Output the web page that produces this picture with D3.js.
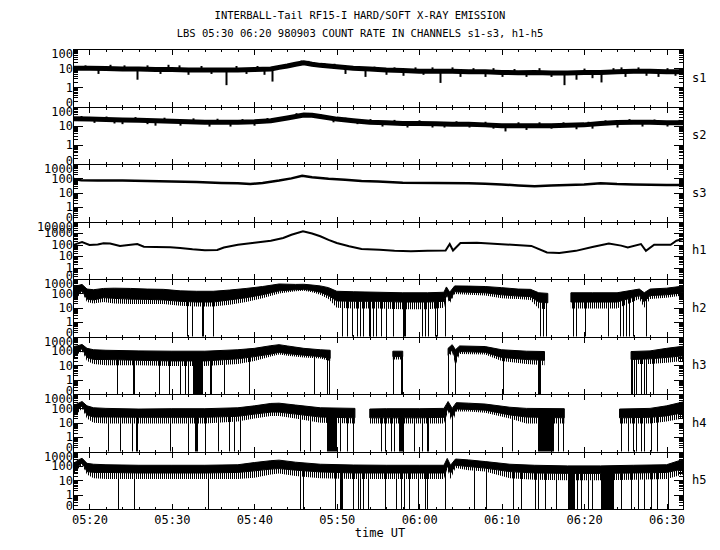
<!DOCTYPE html>
<html>
<head>
<meta charset="utf-8">
<script src="https://cdn.jsdelivr.net/npm/d3@7"></script>
<style>
  body { margin: 0; background: #fff; }
  text { font-family: "DejaVu Sans Mono", monospace; fill: #000; }
</style>
</head>
<body>
<svg id="chart" width="720" height="550"></svg>
<script>
// ---- data (time in minutes after 05:18 UT) ----
const titleLines = [
  'INTERBALL-Tail RF15-I HARD/SOFT X-RAY EMISSION',
  'LBS 05:30 06:20 980903  COUNT RATE IN CHANNELS s1-s3, h1-h5'
]
const channels = ['s1', 's2', 's3', 'h1', 'h2', 'h3', 'h4', 'h5']
const scaleTops = [100, 100, 1000, 10000, 1000, 1000, 1000, 1000]

// thin traces: [minute, count rate]
const s1 = [[0.1,10],[2,10],[4,9.5],[6,9],[8,9],[10,8.5],[12,8.5],[14,8],[16,8],[18,8],[20,8],[22,8.5],[24,9],[25,11],[26,13],[27,16],[28,19],[29,16],[30,14],[31,13],[32,12],[34,10],[36,9],[38,8],[40,7.5],[42,7],[44,7],[46,7],[48,6.5],[50,6.5],[52,6],[54,5.8],[56,6],[58,5.6],[60,5.6],[62,6],[64,6],[66,6.5],[68,7],[70,7],[72,6.5],[74,6.5]]
const s2 = [[0.1,23],[2,22],[4,21],[6,20],[8,19],[10,18],[12,17],[14,16],[16,15],[18,15],[20,15],[22,16],[24,18],[26,25],[28,36],[29,35],[30,30],[32,22],[34,18],[36,15],[38,14],[40,13],[42,13],[44,12.5],[46,12],[48,12],[50,11],[52,10],[54,10],[56,10],[58,10],[60,10.5],[62,11],[64,13],[66,14.5],[68,15],[70,15],[72,14],[74,14]]
const s3 = [[0.1,90],[1,75],[3,70],[6,70],[9,65],[12,60],[15,55],[18,48],[20,45],[21.5,40],[23,48],[25,70],[26.5,100],[27.8,150],[29,120],[31,95],[33,80],[35,65],[37,60],[40,50],[44,48],[48,45],[50,42],[52,38],[54,32],[56,28],[58,32],[60,35],[62,38],[64,45],[66,40],[68,38],[70,36],[72,35],[74,35]]
const h1 = [[0.1,90],[0.5,120],[1.1,165],[2,90],[3,100],[3.7,130],[4.5,120],[5.7,75],[7,95],[7.8,110],[8.6,65],[10,60],[11.8,57],[13,50],[14.5,38],[16,32],[17.5,33],[18.3,55],[20,95],[22,140],[24,215],[25.5,370],[26.5,700],[27.9,1400],[29,900],[30,520],[31,250],[32,135],[33.5,70],[35,40],[37.2,35],[39,28],[41,26],[43,28],[45.2,30],[45.7,110],[46.1,30],[47,135],[49,140],[51.5,110],[55.6,75],[57.5,20],[59,18],[61,28],[63,60],[65,120],[66.5,80],[67.3,55],[68.9,110],[69.5,28],[70.5,96],[72.5,96],[73.2,215],[74,300]]

// short spikes off the soft-channel traces: [minute, count rate]
const s1Spikes = [[1.5,14],[3,5],[4.5,15],[6.2,14],[7.8,2.5],[9,14],[10.5,5],[11.5,15],[12.8,14],[14,4.5],[15.5,13],[16.7,5],[18.6,1.3],[19.8,13],[21,5],[22.3,13],[23.2,4.5],[24.2,2],[26.5,18],[27.6,25],[28.5,24],[30.5,18],[31.7,17],[33,5],[34.2,13],[35.4,3.5],[36.5,12],[38,4.5],[39,11],[40,4],[41.5,11],[42.5,4.5],[43.5,11],[44.5,1.7],[46,11],[47,3.5],[48.5,10],[50,3.5],[51,10],[52,3.5],[53.5,9],[55,3.5],[56.5,10],[58,3.5],[59.6,1.3],[61,2.5],[62,9.5],[63,3],[64,1.8],[65.5,10],[66.5,11],[67,3.5],[68.5,11],[69.5,4],[71,3.5],[72,10],[73,4]]
const s2Spikes = [[1,32],[2.5,14],[4,30],[5,13],[6,12],[7.5,28],[9,12],[10,10],[11,26],[13,10],[14.5,24],[16.5,9],[17.5,23],[19,9],[20.5,22],[22,10],[23.5,25],[27,45],[28.5,46],[30,40],[31.5,15],[33,26],[34.5,12],[36,22],[37.5,9],[39,20],[40.5,8],[42,19],[43.5,8],[45,8],[46.5,17],[48,8],[50,16],[51,7],[52.4,5],[54,15],[55,6],[56.5,15],[58,7],[59.5,15],[61,6.5],[62.5,16],[63,7],[64.5,19],[66,8],[67.5,22],[69,9],[70.5,21],[72,9],[73.5,20]]

// noisy hard channels: [minute, upper edge, bottom of solid band, lowest dips]; null = no data
const h2 = [[0.1,300,60,40],[0.6,350,90,60],[1.1,420,150,120],[1.7,200,40,25],[2.5,180,35,20],[3.7,220,50,25],[5,230,45,20],[7,220,40,18],[9,200,38,18],[11,190,35,18],[13,150,28,14],[15,140,25,12],[17,140,25,12],[19,170,35,16],[21,220,50,25],[23,300,80,45],[25,450,150,100],[27,420,180,140],[28,430,190,150],[29,380,160,120],[30,330,120,80],[31,250,70,40],[32,140,30,10],[34,130,28,9],[37,120,28,9],[40,110,25,8],[43,110,25,8],[45,120,28,10],[45.3,280,100,60],[45.7,120,30,20],[46.3,330,130,90],[48,320,120,80],[50,300,110,70],[52,250,80,45],[54,200,65,40],[55.5,190,60,35],[56.5,110,25,9],[57.6,100,22,8],[57.7,null,null,null],[60.3,null,null,null],[60.4,110,25,9],[63,110,25,9],[66,110,25,9],[68.7,200,70,40],[69.3,110,25,10],[70,200,70,40],[72,230,80,50],[74,320,110,70]]
const h3 = [[0.1,200,50,30],[0.6,230,90,60],[1.1,280,140,100],[1.7,150,35,20],[2.5,120,25,12],[4,110,25,10],[8,100,22,10],[12,95,20,9],[16,95,20,9],[20,120,28,12],[22,150,40,20],[24,230,60,40],[25,270,80,55],[26,220,65,45],[28,150,50,35],[30,120,40,30],[31.2,110,30,20],[31.3,null,null,null],[38.7,null,null,null],[38.8,95,40,25],[40,95,40,25],[40.1,null,null,null],[45.4,null,null,null],[45.5,150,50,30],[46,270,120,80],[46.4,120,25,10],[46.9,220,90,60],[50,200,80,55],[52,120,35,20],[55,95,25,12],[57.2,90,22,10],[57.3,null,null,null],[67.6,null,null,null],[67.7,90,25,12],[70,100,28,12],[72,150,35,15],[74,210,45,20]]
const h4 = [[0.1,150,50,30],[0.6,220,80,50],[1.1,300,150,100],[1.7,150,35,20],[2.5,110,25,10],[4,100,25,9],[8,90,24,9],[12,95,24,9],[16,95,24,9],[20,110,28,12],[22,150,40,20],[24,220,55,30],[25,230,55,30],[27,170,40,20],[30,110,25,10],[34.2,100,22,9],[34.3,null,null,null],[35.9,null,null,null],[36,90,22,9],[38,95,22,9],[42,95,22,9],[45,100,24,9],[45.5,300,100,60],[46,100,24,9],[46.5,250,90,60],[48,230,85,60],[50,200,75,50],[53,120,35,20],[55,100,25,9],[59.6,95,22,9],[59.7,null,null,null],[66.2,null,null,null],[66.3,90,22,9],[70,100,24,9],[72,150,30,12],[74,280,50,20]]
const h5 = [[0.1,150,50,30],[0.6,250,90,60],[1.1,340,160,120],[1.7,150,40,25],[2.5,130,35,14],[4,120,35,12],[8,110,32,12],[12,110,32,12],[16,110,32,12],[20,120,35,12],[22,170,45,15],[24,230,60,25],[25,250,65,30],[27,180,50,20],[30,130,38,14],[34,115,32,12],[38,110,32,12],[42,110,32,12],[45,110,32,12],[45.4,330,100,60],[45.8,110,30,12],[46.4,300,110,70],[48,260,90,50],[50,200,70,40],[53,130,40,14],[56,110,32,11],[60,100,30,10],[64,100,30,10],[68,110,32,11],[72,120,35,12],[74,280,60,25]]

// drop-outs to zero: [from minute, to minute]
const h2Drops = [[13.8,13.8],[14.4,14.4],[15.6,15.9],[17,17],[32.6,32.6],[33.2,33.2],[33.8,33.8],[34.4,34.4],[34.8,34.8],[35.2,35.2],[35.9,36.1],[36.4,36.4],[36.8,36.8],[37.4,37.4],[38,38],[38.8,38.8],[40,40.4],[42.3,42.3],[42.7,42.7],[43.1,43.1],[43.9,43.9],[44.1,44.1],[45.1,45.1],[56.6,56.6],[57,57],[57.4,57.4],[60.6,60.6],[61,61],[62.1,62.1],[64.9,64.9],[66.3,66.3],[66.7,66.7],[67.1,67.1],[67.5,67.5],[67.9,67.9],[69.5,69.5]]
const h3Drops = [[5.3,5.3],[7.3,7.6],[10.4,10.4],[11.6,11.6],[13,13],[13.6,13.6],[14,14],[14.6,15.8],[16.6,16.8],[18.3,18.3],[21.3,21.3],[29.2,29.2],[30.8,30.8],[31.1,31.1],[38.8,38.9],[39.8,40],[45.5,45.5],[46.4,46.4],[52.2,52.2],[56.4,56.8],[67.7,67.9],[68.1,68.1],[68.3,68.3],[68.9,68.9],[69.3,69.3],[69.5,69.5],[70.4,70.4]]
const h4Drops = [[4.3,4.3],[5.7,5.7],[7.1,7.1],[7.6,7.8],[11.8,11.8],[14,14],[14.8,15.2],[16,16],[17.6,17.6],[18.9,18.9],[19.5,19.5],[20.3,20.3],[27.5,27.5],[28.8,28.8],[30.8,32],[32.4,32.4],[33.2,33.2],[34,34],[37.4,37.4],[37.8,37.8],[38.6,38.6],[39,39],[39.6,40.2],[41.4,41.4],[42.3,42.3],[42.9,43.1],[45.1,45.1],[46,46],[53.2,53.2],[56.4,58.4],[58.8,58.8],[59.4,59.4],[66.5,66.5],[67.3,67.3],[67.9,67.9],[68.3,68.3],[68.9,68.9],[69.3,69.3],[70.1,70.1],[70.9,70.9]]
const h5Drops = [[5.5,5.5],[7.4,7.4],[16.4,16.4],[27.5,27.5],[27.9,27.9],[31.8,31.8],[32.4,32.8],[34,34],[34.6,34.6],[34.8,34.8],[35.2,35.2],[35.8,35.8],[37.8,37.8],[39.2,39.2],[39.8,39.8],[40.2,40.2],[40.8,40.8],[41.9,41.9],[42.7,42.7],[42.9,42.9],[45.1,45.1],[48.7,48.7],[50.1,50.1],[53.4,53.4],[54.4,54.4],[56,56],[56.4,56.4],[57.2,57.2],[58.6,58.6],[60,60.8],[61.2,61.2],[61.6,61.6],[62.5,62.5],[62.9,62.9],[64.1,65.7],[66.5,66.5],[67.7,67.7],[68.5,68.5],[69.3,69.3],[70.1,70.1],[70.9,70.9],[72.2,72.2]]

const lines = { s1: s1, s2: s2, s3: s3, h1: h1 }
const lineWidth = { s1: 5, s2: 5, s3: 2.5, h1: 2 }
const spikes = { s1: s1Spikes, s2: s2Spikes }
const bands = { h2: h2, h3: h3, h4: h4, h5: h5 }
const drops = { h2: h2Drops, h3: h3Drops, h4: h4Drops, h5: h5Drops }

// ---- layout ----
let plotLeft = 73, plotRight = 683, plotTop = 49, panelH = 57.5
let svg = d3.select('#chart')

// comb pattern for the ragged lower edge of the noisy bands
let pat = svg.append('defs').append('pattern').attr('id', 'comb')
  .attr('patternUnits', 'userSpaceOnUse').attr('width', 2).attr('height', 4)
pat.append('rect').attr('width', 1).attr('height', 4).attr('fill', '#000')

let start = Date.UTC(1998, 8, 3, 5, 18)
let at = m => new Date(start + m * 60000)
let x = d3.scaleUtc().domain([at(0), at(74)]).range([plotLeft, plotRight])

svg.append('text').attr('x', 360).attr('y', 19).attr('text-anchor', 'middle')
  .style('font-size', '10.5px').text(titleLines[0])
svg.append('text').attr('x', 360).attr('y', 37).attr('text-anchor', 'middle')
  .style('font-size', '10.5px').text(titleLines[1])

// tick marks as crisp 1px rectangles
function hTicks(g, values, y, x0, len) {
  g.selectAll(null).data(values).enter().append('rect')
    .attr('x', len > 0 ? x0 : x0 + len)
    .attr('y', d => Math.round(y(d)))
    .attr('width', Math.abs(len)).attr('height', 1).attr('fill', '#000')
}
function vTicks(g, values, y0, len) {
  g.selectAll(null).data(values).enter().append('rect')
    .attr('x', d => Math.round(x(d)))
    .attr('y', len > 0 ? y0 : y0 + len)
    .attr('width', 1).attr('height', Math.abs(len)).attr('fill', '#000')
}

let minorTimes = x.ticks(d3.utcMinute.every(2))
let majorTimes = x.ticks(d3.utcMinute.every(10))

channels.forEach(function (name, i) {
  let y0 = plotTop + i * panelH
  let y1 = y0 + panelH
  let y = d3.scaleLog().domain([0.1, scaleTops[i]]).range([y1, y0]).clamp(true)

  let g = svg.append('g')

  // data
  if (bands[name]) {
    let rows = bands[name]
    let has = d => d[1] != null
    let xt = d => x(at(d[0]))
    g.append('path').datum(rows)
      .attr('d', d3.area().defined(has).x(xt).y0(d => y(d[3])).y1(d => y(d[2])))
      .attr('fill', 'url(#comb)')
    g.append('path').datum(rows)
      .attr('d', d3.area().defined(has).x(xt).y0(d => y(d[2])).y1(d => y(d[1])))
      .attr('fill', '#000').attr('stroke', '#000').attr('stroke-width', 1)

    let valid = rows.filter(has)
    let solidAt = d3.scaleLinear().domain(valid.map(d => d[0])).range(valid.map(d => d[2]))
    g.selectAll('rect.drop').data(drops[name]).enter().append('rect')
      .attr('x', d => Math.round(x(at(d[0]))))
      .attr('width', d => Math.max(1, Math.round(x(at(d[1])) - x(at(d[0])))))
      .attr('y', d => y(solidAt(d[0])) - 1)
      .attr('height', d => y1 - y(solidAt(d[0])) + 1)
      .attr('fill', '#000')
  } else {
    let rows = lines[name]
    let line = d3.line().x(d => x(at(d[0]))).y(d => y(d[1]))
    g.append('path').datum(rows).attr('d', line)
      .attr('fill', 'none').attr('stroke', '#000')
      .attr('stroke-width', lineWidth[name])
    if (spikes[name]) {
      let mid = d3.scaleLinear().domain(rows.map(d => d[0])).range(rows.map(d => d[1]))
      g.selectAll('line.spike').data(spikes[name]).enter().append('line')
        .attr('x1', d => Math.round(x(at(d[0]))) + 0.5)
        .attr('x2', d => Math.round(x(at(d[0]))) + 0.5)
        .attr('y1', d => y(mid(d[0])))
        .attr('y2', d => y(d[1]))
        .attr('stroke', '#000').attr('stroke-width', 2)
    }
  }

  // frame
  g.append('rect').attr('x', plotLeft + 0.5).attr('y', Math.round(y0) + 0.5)
    .attr('width', plotRight - plotLeft).attr('height', Math.round(y1) - Math.round(y0))
    .attr('fill', 'none').attr('stroke', '#000')

  // log ticks
  let majors = d3.range(Math.round(Math.log10(scaleTops[i])) + 2).map(k => Math.pow(10, k - 1))
  let minors = []
  majors.slice(0, -1).forEach(m => d3.range(2, 10).forEach(k => minors.push(m * k)))

  hTicks(g, majors, y, plotLeft, 10)
  hTicks(g, minors, y, plotLeft, 5)
  hTicks(g, majors, y, plotRight + 1, -10)
  hTicks(g, minors, y, plotRight + 1, -5)

  let fmt = v => v < 1 ? '0' : d3.format('d')(v)
  let leftAxis = g.append('g').attr('transform', `translate(${plotLeft},0)`)
  leftAxis.call(d3.axisLeft(y).tickValues(majors).tickFormat(fmt).tickSize(0).tickPadding(0))
  leftAxis.selectAll('text').style('font-size', '12px')
    .attr('dy', d => d === scaleTops[i] ? '0.71em' : (d < 1 ? '0' : '0.32em'))

  // time ticks, top and bottom of each panel
  let yt = Math.round(y0), yb = Math.round(y1)
  vTicks(g, minorTimes, yt, 3)
  vTicks(g, majorTimes, yt, 6)
  vTicks(g, minorTimes, yb + 1, -3)
  vTicks(g, majorTimes, yb + 1, -6)

  g.append('text').attr('x', 692).attr('y', (y0 + y1) / 2).attr('dy', '0.35em')
    .style('font-size', '12px').text(name)
})

let plotBottom = plotTop + channels.length * panelH
svg.append('g').attr('transform', `translate(0,${plotBottom})`)
  .call(d3.axisBottom(x).ticks(d3.utcMinute.every(10)).tickFormat(d3.utcFormat('%H:%M')).tickSize(0).tickPadding(6))
  .selectAll('text').style('font-size', '12px')

svg.append('text').attr('x', 380).attr('y', 537).attr('text-anchor', 'middle')
  .style('font-size', '12px').text('time UT')

svg.selectAll('.domain').remove()
</script>
</body>
</html>
